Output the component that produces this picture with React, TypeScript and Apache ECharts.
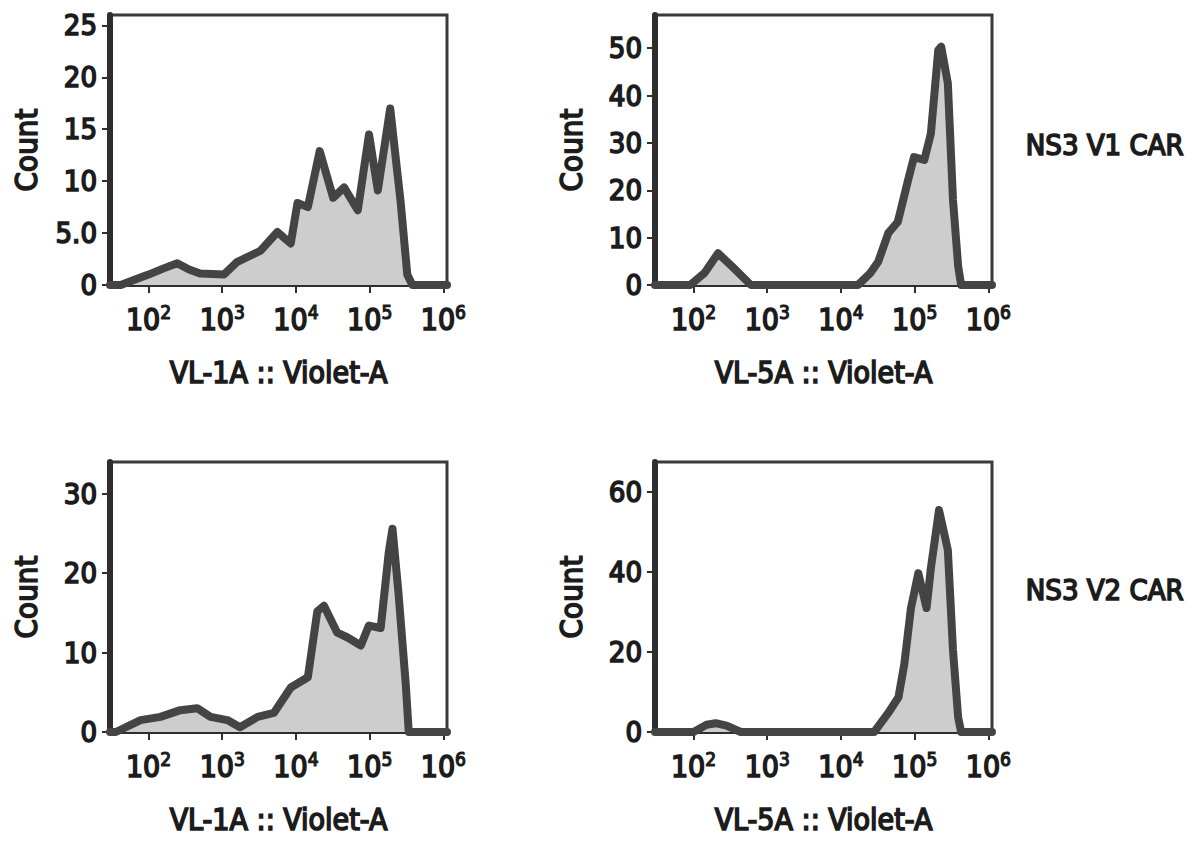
import { useEffect, useRef } from "react";
import * as echarts from "echarts";

// Condensed face, thickened with an outline of the same ink for a heavy look
const FONT = "'DejaVu Sans Condensed', 'DejaVu Sans', sans-serif";
const INK = "#1c1c1c";
const HEAVY = { fontFamily: FONT, fontWeight: "normal", color: INK, textBorderColor: INK, textBorderWidth: 1.6 };

// NS3 V1 CAR, VL-1A channel: fluorescence intensity and event count
const v1Vl1aIntensity = [30, 42, 70, 100, 160, 245, 355, 500, 1050, 1580, 3300, 5600, 8500, 10500, 14500, 21000, 32000, 45000, 69000, 98000, 129000, 190000, 263000, 324000, 380000, 1120000];
const v1Vl1aCount = [0, 0, 0.6, 1.0, 1.6, 2.1, 1.5, 1.1, 1.0, 2.2, 3.3, 5.1, 4.0, 7.9, 7.5, 12.9, 8.4, 9.4, 7.2, 14.5, 9.1, 17.0, 8.0, 1.0, 0, 0];

// NS3 V1 CAR, VL-5A channel
const v1Vl5aIntensity = [30, 90, 140, 215, 330, 600, 17000, 25000, 32000, 44000, 59000, 81000, 98000, 135000, 166000, 209000, 229000, 282000, 331000, 389000, 427000, 1120000];
const v1Vl5aCount = [0, 0, 2.5, 6.7, 4.0, 0, 0, 2.5, 4.9, 11, 13.3, 22, 27, 26.4, 32, 49.6, 50.3, 42.6, 18, 4, 0, 0];

// NS3 V2 CAR, VL-1A channel
const v2Vl1aIntensity = [30, 36, 78, 145, 270, 457, 692, 1175, 1740, 3020, 5010, 8510, 14500, 19500, 24000, 36300, 50100, 75900, 97700, 141000, 182000, 204000, 245000, 309000, 339000, 1120000];
const v2Vl1aCount = [0, 0, 1.5, 1.9, 2.75, 3.0, 1.9, 1.5, 0.6, 1.9, 2.4, 5.6, 6.9, 15.2, 15.9, 12.5, 11.9, 10.9, 13.4, 13.1, 22.7, 25.6, 17.7, 6, 0, 0];

// NS3 V2 CAR, VL-5A channel
const v2Vl5aIntensity = [30, 100, 150, 200, 280, 437, 28200, 43600, 60300, 72400, 89100, 112000, 145000, 166000, 214000, 282000, 331000, 389000, 427000, 1120000];
const v2Vl5aCount = [0, 0, 1.8, 2.2, 1.6, 0, 0, 4.7, 8.7, 17, 31, 39.7, 31, 41, 55.5, 45.5, 20.5, 3.7, 0, 0];

// Axis ticks
const decadeTicks = [100, 1000, 10000, 100000, 1000000];
const v1Vl1aCountTicks = [0, 5, 10, 15, 20, 25];
const v1Vl1aCountTickLabels = ["0", "5.0", "10", "15", "20", "25"];
const v1Vl5aCountTicks = [0, 10, 20, 30, 40, 50];
const v2Vl1aCountTicks = [0, 10, 20, 30];
const v2Vl5aCountTicks = [0, 20, 40, 60];

const xAxisNames = ["VL-1A :: Violet-A", "VL-5A :: Violet-A", "VL-1A :: Violet-A", "VL-5A :: Violet-A"];
const rowLabels = ["NS3 V1 CAR", "NS3 V2 CAR"];

const panels = [
  { xs: v1Vl1aIntensity, ys: v1Vl1aCount, ticks: v1Vl1aCountTicks, tickLabels: v1Vl1aCountTickLabels, yMax: 26, left: 110, top: 15 },
  { xs: v1Vl5aIntensity, ys: v1Vl5aCount, ticks: v1Vl5aCountTicks, tickLabels: null, yMax: 57, left: 655, top: 15 },
  { xs: v2Vl1aIntensity, ys: v2Vl1aCount, ticks: v2Vl1aCountTicks, tickLabels: null, yMax: 34, left: 110, top: 462 },
  { xs: v2Vl5aIntensity, ys: v2Vl5aCount, ticks: v2Vl5aCountTicks, tickLabels: null, yMax: 67.5, left: 655, top: 462 },
];

export default function App() {
  const ref = useRef<HTMLDivElement>(null);

  useEffect(() => {
    if (!ref.current) return;
    const chart = echarts.init(ref.current, null, { renderer: "svg" });

    const grid = panels.map((p) => ({
      left: p.left,
      top: p.top,
      width: 337,
      height: 270,
      show: true,
      borderColor: "#3a3a3a",
      borderWidth: 3,
      backgroundColor: "#ffffff",
    }));

    const xAxis = panels.map((_, i) => ({
      type: "log",
      logBase: 10,
      gridIndex: i,
      min: 30,
      max: 1120000,
      name: xAxisNames[i],
      nameLocation: "middle",
      nameGap: 72,
      nameTextStyle: { ...HEAVY, fontSize: 30 },
      axisLine: { show: true, lineStyle: { color: "#2e2e2e", width: 3 } },
      axisTick: { show: true, customValues: decadeTicks, length: 8, lineStyle: { color: "#2e2e2e", width: 2 } },
      splitLine: { show: false },
      minorTick: { show: false },
      axisLabel: {
        customValues: decadeTicks,
        margin: 17,
        formatter: (v: number) => `{b|10}{s|${Math.round(Math.log10(v))}}`,
        rich: {
          b: { ...HEAVY, fontSize: 30, lineHeight: 35 },
          s: { ...HEAVY, fontSize: 19, lineHeight: 19, verticalAlign: "top", textBorderWidth: 1.2 },
        },
      },
    }));

    const yAxis = panels.map((p, i) => ({
      type: "value",
      gridIndex: i,
      min: 0,
      max: p.yMax,
      name: "Count",
      nameLocation: "middle",
      nameGap: 69,
      nameRotate: 90,
      nameTextStyle: { ...HEAVY, fontSize: 31 },
      axisLine: { show: true, lineStyle: { color: "#2e2e2e", width: 6 } },
      axisTick: { show: true, customValues: p.ticks, length: 8, lineStyle: { color: "#2e2e2e", width: 2 } },
      splitLine: { show: false },
      axisLabel: {
        customValues: p.ticks,
        margin: 13,
        ...HEAVY,
        fontSize: 29,
        formatter: (v: number) => {
          if (p.tickLabels) {
            const k = p.ticks.indexOf(v);
            if (k >= 0) return p.tickLabels[k];
          }
          return String(v);
        },
      },
    }));

    const series = panels.map((p, i) => ({
      type: "line",
      xAxisIndex: i,
      yAxisIndex: i,
      data: p.xs.map((x, k) => [x, p.ys[k]]),
      showSymbol: false,
      symbol: "none",
      lineStyle: { color: "#444444", width: 8, join: "round", cap: "round" },
      areaStyle: { color: "#cdcdcd", opacity: 1 },
      z: 3,
    }));

    const rowLabelStyle = {
      fontFamily: FONT,
      fontSize: 29,
      fill: INK,
      stroke: INK,
      lineWidth: 1.6,
    };

    chart.setOption({
      animation: false,
      backgroundColor: "#ffffff",
      grid,
      xAxis,
      yAxis,
      series,
      graphic: [
        { type: "text", left: 1025, top: 130, style: { text: rowLabels[0], ...rowLabelStyle } },
        { type: "text", left: 1025, top: 575, style: { text: rowLabels[1], ...rowLabelStyle } },
      ],
    });

    return () => chart.dispose();
  }, []);

  return (
    <div
      ref={ref}
      style={{ position: "absolute", left: 0, top: 0, width: 1195, height: 848, background: "#ffffff" }}
    />
  );
}
